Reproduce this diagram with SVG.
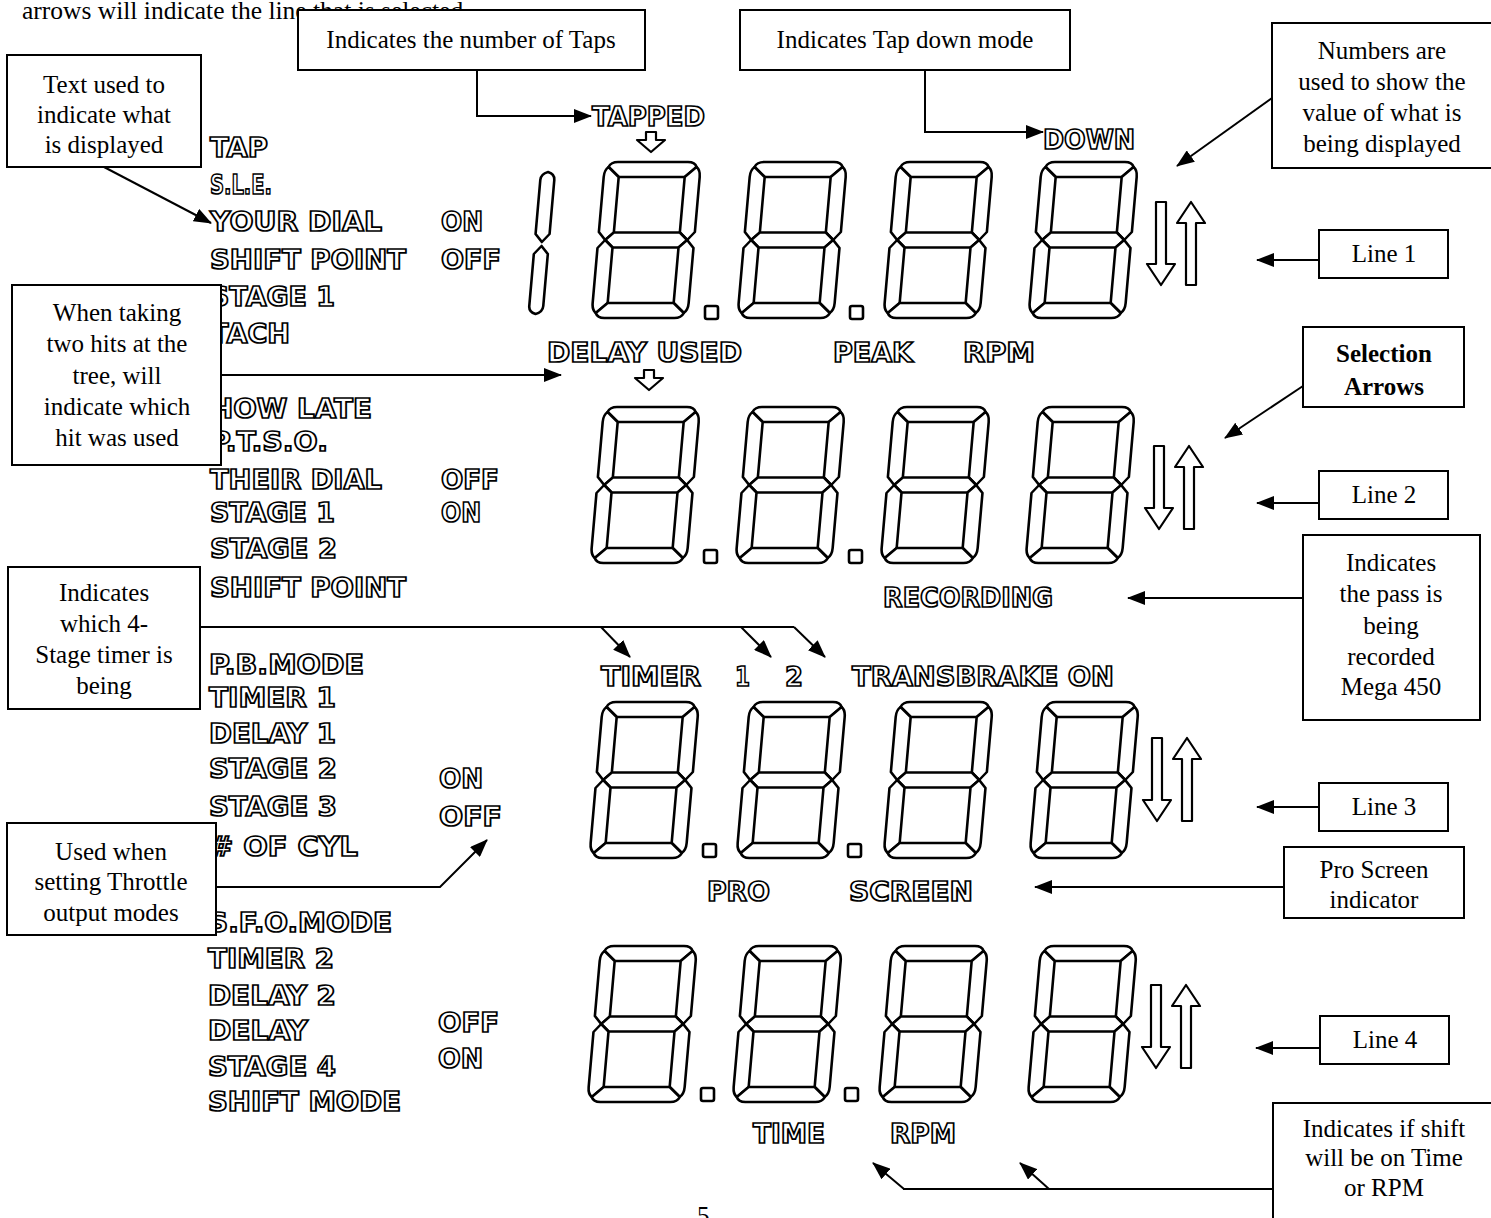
<svg xmlns="http://www.w3.org/2000/svg" xmlns:xlink="http://www.w3.org/1999/xlink" width="1491" height="1218" viewBox="0 0 1491 1218">
<style>
.box{fill:#fff;stroke:#000;stroke-width:2}
.t{font-family:"Liberation Serif","Times New Roman",serif;font-size:25px;fill:#000;text-anchor:middle}
.b{font-weight:bold}
.lcd{font-family:"DejaVu Sans","Liberation Sans",sans-serif;font-weight:bold;font-size:26px;fill:#fff;stroke:#000;stroke-width:1.7px}
.seg{fill:#fff;stroke:#000;stroke-width:2.6;stroke-linejoin:round}
.dp{fill:#fff;stroke:#000;stroke-width:2.6}
.arr{fill:#fff;stroke:#000;stroke-width:2.2;stroke-linejoin:round}
.con{fill:none;stroke:#000;stroke-width:2}
.ah{marker-end:url(#head)}
</style>
<defs>
<marker id="head" markerUnits="userSpaceOnUse" markerWidth="18" markerHeight="14" refX="17" refY="7" orient="auto">
<path d="M0,0 L18,7 L0,14 Z" fill="#000"/>
</marker>
<symbol id="d8" overflow="visible">
<path class="seg" d="M4,5 Q6,0 13,0 L83,0 Q90,0 92,5 L81,15 L15,15 Z"/>
<path class="seg" d="M92,5 Q96,8 96,15 L96,70 L89,78 L81,70.5 L81,15 Z"/>
<path class="seg" d="M4,5 L15,15 L15,70.5 L7,78 L0,70 L0,15 Q0,8 4,5 Z"/>
<path class="seg" d="M7,78 L15,70.5 L81,70.5 L89,78 L81,85.5 L15,85.5 Z"/>
<path class="seg" d="M7,78 L15,85.5 L15,141 L4,151 Q0,148 0,141 L0,86 Z"/>
<path class="seg" d="M89,78 L96,86 L96,141 Q96,148 92,151 L81,141 L81,85.5 Z"/>
<path class="seg" d="M4,151 L15,141 L81,141 L92,151 Q90,156 83,156 L13,156 Q6,156 4,151 Z"/>
</symbol>
<symbol id="dn" overflow="visible"><path class="arr" d="M9,0 H19 V62 H28 L14,83 L0,62 H9 Z"/></symbol>
<symbol id="up" overflow="visible"><path class="arr" d="M14,0 L28,21 H19 V83 H9 V21 H0 Z"/></symbol>
<symbol id="sdn" overflow="visible"><path class="arr" d="M9,0 H19 V8 H28 L14,20 L0,8 H9 Z"/></symbol>
</defs>
<rect width="1491" height="1218" fill="#fff"/>

<text x="22" y="19" font-family="Liberation Serif, serif" font-size="25.5" fill="#000">arrows will indicate the line that is selected</text>

<g id="display">
<g id="labels-left">
<text class="lcd" x="210" y="157" textLength="58" lengthAdjust="spacingAndGlyphs">TAP</text>
<text class="lcd" x="210" y="194" textLength="62" lengthAdjust="spacingAndGlyphs">S.L.E.</text>
<text class="lcd" x="210" y="231" textLength="172" lengthAdjust="spacingAndGlyphs">YOUR DIAL</text>
<text class="lcd" x="441" y="231" textLength="42" lengthAdjust="spacingAndGlyphs">ON</text>
<text class="lcd" x="210" y="269" textLength="196" lengthAdjust="spacingAndGlyphs">SHIFT POINT</text>
<text class="lcd" x="441" y="269" textLength="60" lengthAdjust="spacingAndGlyphs">OFF</text>
<text class="lcd" x="210" y="306" textLength="125" lengthAdjust="spacingAndGlyphs">STAGE 1</text>
<text class="lcd" x="210" y="343" textLength="80" lengthAdjust="spacingAndGlyphs">TACH</text>

<text class="lcd" x="210" y="418" textLength="162" lengthAdjust="spacingAndGlyphs">HOW LATE</text>
<text class="lcd" x="210" y="451" textLength="118" lengthAdjust="spacingAndGlyphs">P.T.S.O.</text>
<text class="lcd" x="210" y="489" textLength="172" lengthAdjust="spacingAndGlyphs">THEIR DIAL</text>
<text class="lcd" x="441" y="489" textLength="58" lengthAdjust="spacingAndGlyphs">OFF</text>
<text class="lcd" x="210" y="522" textLength="125" lengthAdjust="spacingAndGlyphs">STAGE 1</text>
<text class="lcd" x="441" y="522" textLength="40" lengthAdjust="spacingAndGlyphs">ON</text>
<text class="lcd" x="210" y="558" textLength="127" lengthAdjust="spacingAndGlyphs">STAGE 2</text>
<text class="lcd" x="210" y="597" textLength="196" lengthAdjust="spacingAndGlyphs">SHIFT POINT</text>

<text class="lcd" x="209" y="674" textLength="155" lengthAdjust="spacingAndGlyphs">P.B.MODE</text>
<text class="lcd" x="209" y="707" textLength="127" lengthAdjust="spacingAndGlyphs">TIMER 1</text>
<text class="lcd" x="209" y="743" textLength="127" lengthAdjust="spacingAndGlyphs">DELAY 1</text>
<text class="lcd" x="209" y="778" textLength="128" lengthAdjust="spacingAndGlyphs">STAGE 2</text>
<text class="lcd" x="439" y="788" textLength="44" lengthAdjust="spacingAndGlyphs">ON</text>
<text class="lcd" x="209" y="816" textLength="128" lengthAdjust="spacingAndGlyphs">STAGE 3</text>
<text class="lcd" x="439" y="826" textLength="63" lengthAdjust="spacingAndGlyphs">OFF</text>
<text class="lcd" x="209" y="856" textLength="149" lengthAdjust="spacingAndGlyphs"># OF CYL</text>

<text class="lcd" x="208" y="932" textLength="184" lengthAdjust="spacingAndGlyphs">S.F.O.MODE</text>
<text class="lcd" x="208" y="968" textLength="126" lengthAdjust="spacingAndGlyphs">TIMER 2</text>
<text class="lcd" x="208" y="1005" textLength="128" lengthAdjust="spacingAndGlyphs">DELAY 2</text>
<text class="lcd" x="208" y="1040" textLength="100" lengthAdjust="spacingAndGlyphs">DELAY</text>
<text class="lcd" x="438" y="1032" textLength="61" lengthAdjust="spacingAndGlyphs">OFF</text>
<text class="lcd" x="208" y="1076" textLength="128" lengthAdjust="spacingAndGlyphs">STAGE 4</text>
<text class="lcd" x="438" y="1068" textLength="45" lengthAdjust="spacingAndGlyphs">ON</text>
<text class="lcd" x="208" y="1111" textLength="193" lengthAdjust="spacingAndGlyphs">SHIFT MODE</text>
</g>

<g id="labels-display">
<text class="lcd" x="592" y="126" textLength="113" lengthAdjust="spacingAndGlyphs">TAPPED</text>
<use href="#sdn" x="637" y="132"/>
<text class="lcd" x="1043" y="149" textLength="92" lengthAdjust="spacingAndGlyphs">DOWN</text>
<text class="lcd" x="547" y="362" textLength="195" lengthAdjust="spacingAndGlyphs">DELAY USED</text>
<use href="#sdn" x="635" y="370"/>
<text class="lcd" x="833" y="362" textLength="80" lengthAdjust="spacingAndGlyphs">PEAK</text>
<text class="lcd" x="963" y="362" textLength="72" lengthAdjust="spacingAndGlyphs">RPM</text>
<text class="lcd" x="883" y="607" textLength="170" lengthAdjust="spacingAndGlyphs">RECORDING</text>
<text class="lcd" x="601" y="686" textLength="100" lengthAdjust="spacingAndGlyphs">TIMER</text>
<text class="lcd" x="735" y="686" textLength="15" lengthAdjust="spacingAndGlyphs">1</text>
<text class="lcd" x="785" y="686" textLength="18" lengthAdjust="spacingAndGlyphs">2</text>
<text class="lcd" x="852" y="686" textLength="262" lengthAdjust="spacingAndGlyphs">TRANSBRAKE ON</text>
<text class="lcd" x="707" y="901" textLength="63" lengthAdjust="spacingAndGlyphs">PRO</text>
<text class="lcd" x="849" y="901" textLength="124" lengthAdjust="spacingAndGlyphs">SCREEN</text>
<text class="lcd" x="753" y="1143" textLength="72" lengthAdjust="spacingAndGlyphs">TIME</text>
<text class="lcd" x="890" y="1143" textLength="66" lengthAdjust="spacingAndGlyphs">RPM</text>
</g>

<g id="row1">
<g transform="translate(541,172) skewX(-5)">
<path class="seg" d="M7,0 Q14,2 14,8 L14,62 L7,70 L0,62 L0,8 Q0,2 7,0 Z"/>
<path class="seg" d="M7,74 L14,82 L14,134 Q14,140 7,142 Q0,140 0,134 L0,82 Z"/>
</g>
<use href="#d8" transform="translate(605,162) skewX(-5)"/>
<use href="#d8" transform="translate(751,162) skewX(-5)"/>
<use href="#d8" transform="translate(897,162) skewX(-5)"/>
<use href="#d8" transform="translate(1042,162) skewX(-5)"/>
<rect class="dp" x="705" y="306" width="13" height="13" rx="2"/>
<rect class="dp" x="850" y="306" width="13" height="13" rx="2"/>
<use href="#dn" x="1147" y="202"/>
<use href="#up" x="1177" y="202"/>
</g>
<g id="row2">
<use href="#d8" transform="translate(604,407) skewX(-5)"/>
<use href="#d8" transform="translate(749,407) skewX(-5)"/>
<use href="#d8" transform="translate(894,407) skewX(-5)"/>
<use href="#d8" transform="translate(1039,407) skewX(-5)"/>
<rect class="dp" x="704" y="550" width="13" height="13" rx="2"/>
<rect class="dp" x="849" y="550" width="13" height="13" rx="2"/>
<use href="#dn" x="1145" y="446"/>
<use href="#up" x="1175" y="446"/>
</g>
<g id="row3">
<use href="#d8" transform="translate(603,702) skewX(-5)"/>
<use href="#d8" transform="translate(750,702) skewX(-5)"/>
<use href="#d8" transform="translate(897,702) skewX(-5)"/>
<use href="#d8" transform="translate(1043,702) skewX(-5)"/>
<rect class="dp" x="703" y="844" width="13" height="13" rx="2"/>
<rect class="dp" x="848" y="844" width="13" height="13" rx="2"/>
<use href="#dn" x="1143" y="738"/>
<use href="#up" x="1173" y="738"/>
</g>
<g id="row4">
<use href="#d8" transform="translate(601,946) skewX(-5)"/>
<use href="#d8" transform="translate(746,946) skewX(-5)"/>
<use href="#d8" transform="translate(892,946) skewX(-5)"/>
<use href="#d8" transform="translate(1041,946) skewX(-5)"/>
<rect class="dp" x="701" y="1088" width="13" height="13" rx="2"/>
<rect class="dp" x="845" y="1088" width="13" height="13" rx="2"/>
<use href="#dn" x="1142" y="985"/>
<use href="#up" x="1172" y="985"/>
</g>
</g>

<g id="connectors">
<path class="con ah" d="M477,70 V116 H591"/>
<path class="con ah" d="M925,70 V132 H1043"/>
<path class="con ah" d="M1272,98 L1177,166"/>
<path class="con ah" d="M104,167 L211,223"/>
<path class="con ah" d="M1319,260 H1257"/>
<path class="con ah" d="M220,375 H561"/>
<path class="con ah" d="M1303,386 L1225,438"/>
<path class="con ah" d="M1319,503 H1257"/>
<path class="con ah" d="M1303,598 H1128"/>
<path class="con" d="M200,627 H794"/>
<path class="con ah" d="M601,627 L630,657"/>
<path class="con ah" d="M741,627 L771,657"/>
<path class="con ah" d="M794,627 L825,657"/>
<path class="con ah" d="M1319,807 H1257"/>
<path class="con ah" d="M1284,887 H1035"/>
<path class="con ah" d="M216,887 H440 L487,840"/>
<path class="con ah" d="M1320,1048 H1256"/>
<path class="con" d="M1273,1189 H903"/>
<path class="con ah" d="M904,1189 L873,1163"/>
<path class="con ah" d="M1049,1189 L1020,1163"/>
</g>

<g id="box-taps">
<rect class="box" x="298" y="10" width="347" height="60"/>
<text class="t" x="471" y="48">Indicates the number of Taps</text>
</g>
<g id="box-down">
<rect class="box" x="740" y="10" width="330" height="60"/>
<text class="t" x="905" y="48">Indicates Tap down mode</text>
</g>
<g id="box-numbers">
<rect class="box" x="1272" y="23" width="225" height="145"/>
<text class="t" x="1382" y="59">Numbers are</text>
<text class="t" x="1382" y="90">used to show the</text>
<text class="t" x="1382" y="121">value of what is</text>
<text class="t" x="1382" y="152">being displayed</text>
</g>
<g id="box-text">
<rect class="box" x="7" y="55" width="194" height="112"/>
<text class="t" x="104" y="93">Text used to</text>
<text class="t" x="104" y="123">indicate what</text>
<text class="t" x="104" y="153">is displayed</text>
</g>
<g id="box-line1">
<rect class="box" x="1319" y="230" width="129" height="48"/>
<text class="t" x="1384" y="262">Line 1</text>
</g>
<g id="box-hits">
<rect class="box" x="12" y="285" width="209" height="180"/>
<text class="t" x="117" y="321">When taking</text>
<text class="t" x="117" y="352">two hits at the</text>
<text class="t" x="117" y="384">tree, will</text>
<text class="t" x="117" y="415">indicate which</text>
<text class="t" x="117" y="446">hit was used</text>
</g>
<g id="box-selection">
<rect class="box" x="1303" y="327" width="161" height="80"/>
<text class="t b" x="1384" y="362">Selection</text>
<text class="t b" x="1384" y="395">Arrows</text>
</g>
<g id="box-line2">
<rect class="box" x="1319" y="471" width="129" height="48"/>
<text class="t" x="1384" y="503">Line 2</text>
</g>
<g id="box-recording">
<rect class="box" x="1303" y="535" width="177" height="185"/>
<text class="t" x="1391" y="571">Indicates</text>
<text class="t" x="1391" y="602">the pass is</text>
<text class="t" x="1391" y="634">being</text>
<text class="t" x="1391" y="665">recorded</text>
<text class="t" x="1391" y="695">Mega 450</text>
</g>
<g id="box-timer">
<rect class="box" x="8" y="567" width="192" height="142"/>
<text class="t" x="104" y="601">Indicates</text>
<text class="t" x="104" y="632">which 4-</text>
<text class="t" x="104" y="663">Stage timer is</text>
<text class="t" x="104" y="694">being</text>
</g>
<g id="box-line3">
<rect class="box" x="1319" y="783" width="129" height="48"/>
<text class="t" x="1384" y="815">Line 3</text>
</g>
<g id="box-pro">
<rect class="box" x="1284" y="847" width="180" height="71"/>
<text class="t" x="1374" y="878">Pro Screen</text>
<text class="t" x="1374" y="908">indicator</text>
</g>
<g id="box-throttle">
<rect class="box" x="7" y="823" width="209" height="112"/>
<text class="t" x="111" y="860">Used when</text>
<text class="t" x="111" y="890">setting Throttle</text>
<text class="t" x="111" y="921">output modes</text>
</g>
<g id="box-line4">
<rect class="box" x="1320" y="1016" width="129" height="48"/>
<text class="t" x="1385" y="1048">Line 4</text>
</g>
<g id="box-shift">
<rect class="box" x="1273" y="1103" width="225" height="130"/>
<text class="t" x="1384" y="1137">Indicates if shift</text>
<text class="t" x="1384" y="1166">will be on Time</text>
<text class="t" x="1384" y="1196">or RPM</text>
</g>
<text x="697" y="1224" font-family="Liberation Serif, serif" font-size="25" fill="#000">5</text>
</svg>
